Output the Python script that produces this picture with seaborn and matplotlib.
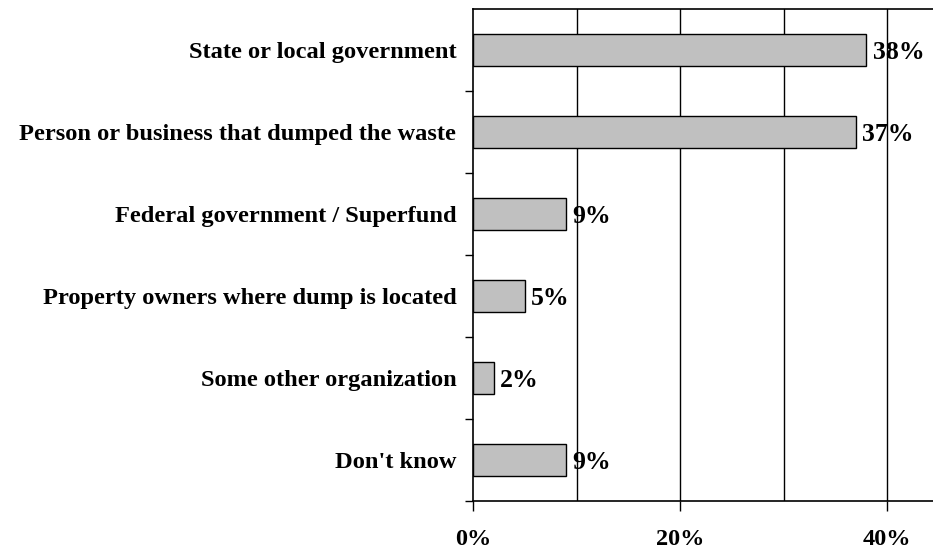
import matplotlib
matplotlib.use("Agg")
import matplotlib.pyplot as plt
import seaborn as sns
import pandas as pd
import numpy as np

# data
categories = [
    "State or local government",
    "Person or business that dumped the waste",
    "Federal government / Superfund",
    "Property owners where dump is located",
    "Some other organization",
    "Don't know",
]
values = [38, 37, 9, 5, 2, 9]
xticks = [0, 20, 40]
xtick_labels = ["0%", "20%", "40%"]
grid_at = [10, 20, 30, 40]

df = pd.DataFrame({"category": categories, "value": values})

sns.set_style("white")
plt.rcParams["font.family"] = ["Liberation Serif", "DejaVu Serif"]
plt.rcParams["font.weight"] = "bold"
plt.rcParams["text.color"] = "black"
plt.rcParams["xtick.color"] = "black"
plt.rcParams["ytick.color"] = "black"

fig = plt.figure(figsize=(9.33, 5.48), dpi=100)
ax = fig.add_axes([0.507, 0.0858, 0.4992, 0.8978])

sns.barplot(
    data=df,
    x="value",
    y="category",
    orient="h",
    color="#C0C0C0",
    edgecolor="black",
    linewidth=1.0,
    width=0.4,
    saturation=1,
    ax=ax,
    zorder=3,
)

ax.set_xlim(0, 45)
ax.set_ylim(5.5, -0.5)

# vertical grid lines
for g in grid_at:
    ax.axvline(g, color="black", lw=1.0, zorder=1)

# value labels
for i, v in enumerate(values):
    ax.text(v + 0.6, i + 0.03, f"{v}%", va="center", ha="left",
            fontsize=18.5, fontweight="bold", color="black", zorder=4)

ax.set_xticks(xticks)
ax.set_xticklabels(xtick_labels, fontsize=17.5, fontweight="bold")
ax.tick_params(axis="x", bottom=True, direction="out", length=7, width=1, pad=13)

ax.set_yticks(range(len(categories)))
ax.set_yticklabels(categories, fontsize=17.6, fontweight="bold")
ax.set_yticks(np.arange(0.5, len(categories), 1.0), minor=True)
ax.tick_params(axis="y", which="major", left=True, length=0, pad=12)
ax.tick_params(axis="y", which="minor", left=True, direction="out", length=6, width=1)

ax.set_xlabel("")
ax.set_ylabel("")

for side in ["left", "bottom", "top"]:
    ax.spines[side].set_visible(True)
    ax.spines[side].set_color("black")
    ax.spines[side].set_linewidth(1.2)
ax.spines["right"].set_visible(False)

fig.savefig("out.png", dpi=100)
